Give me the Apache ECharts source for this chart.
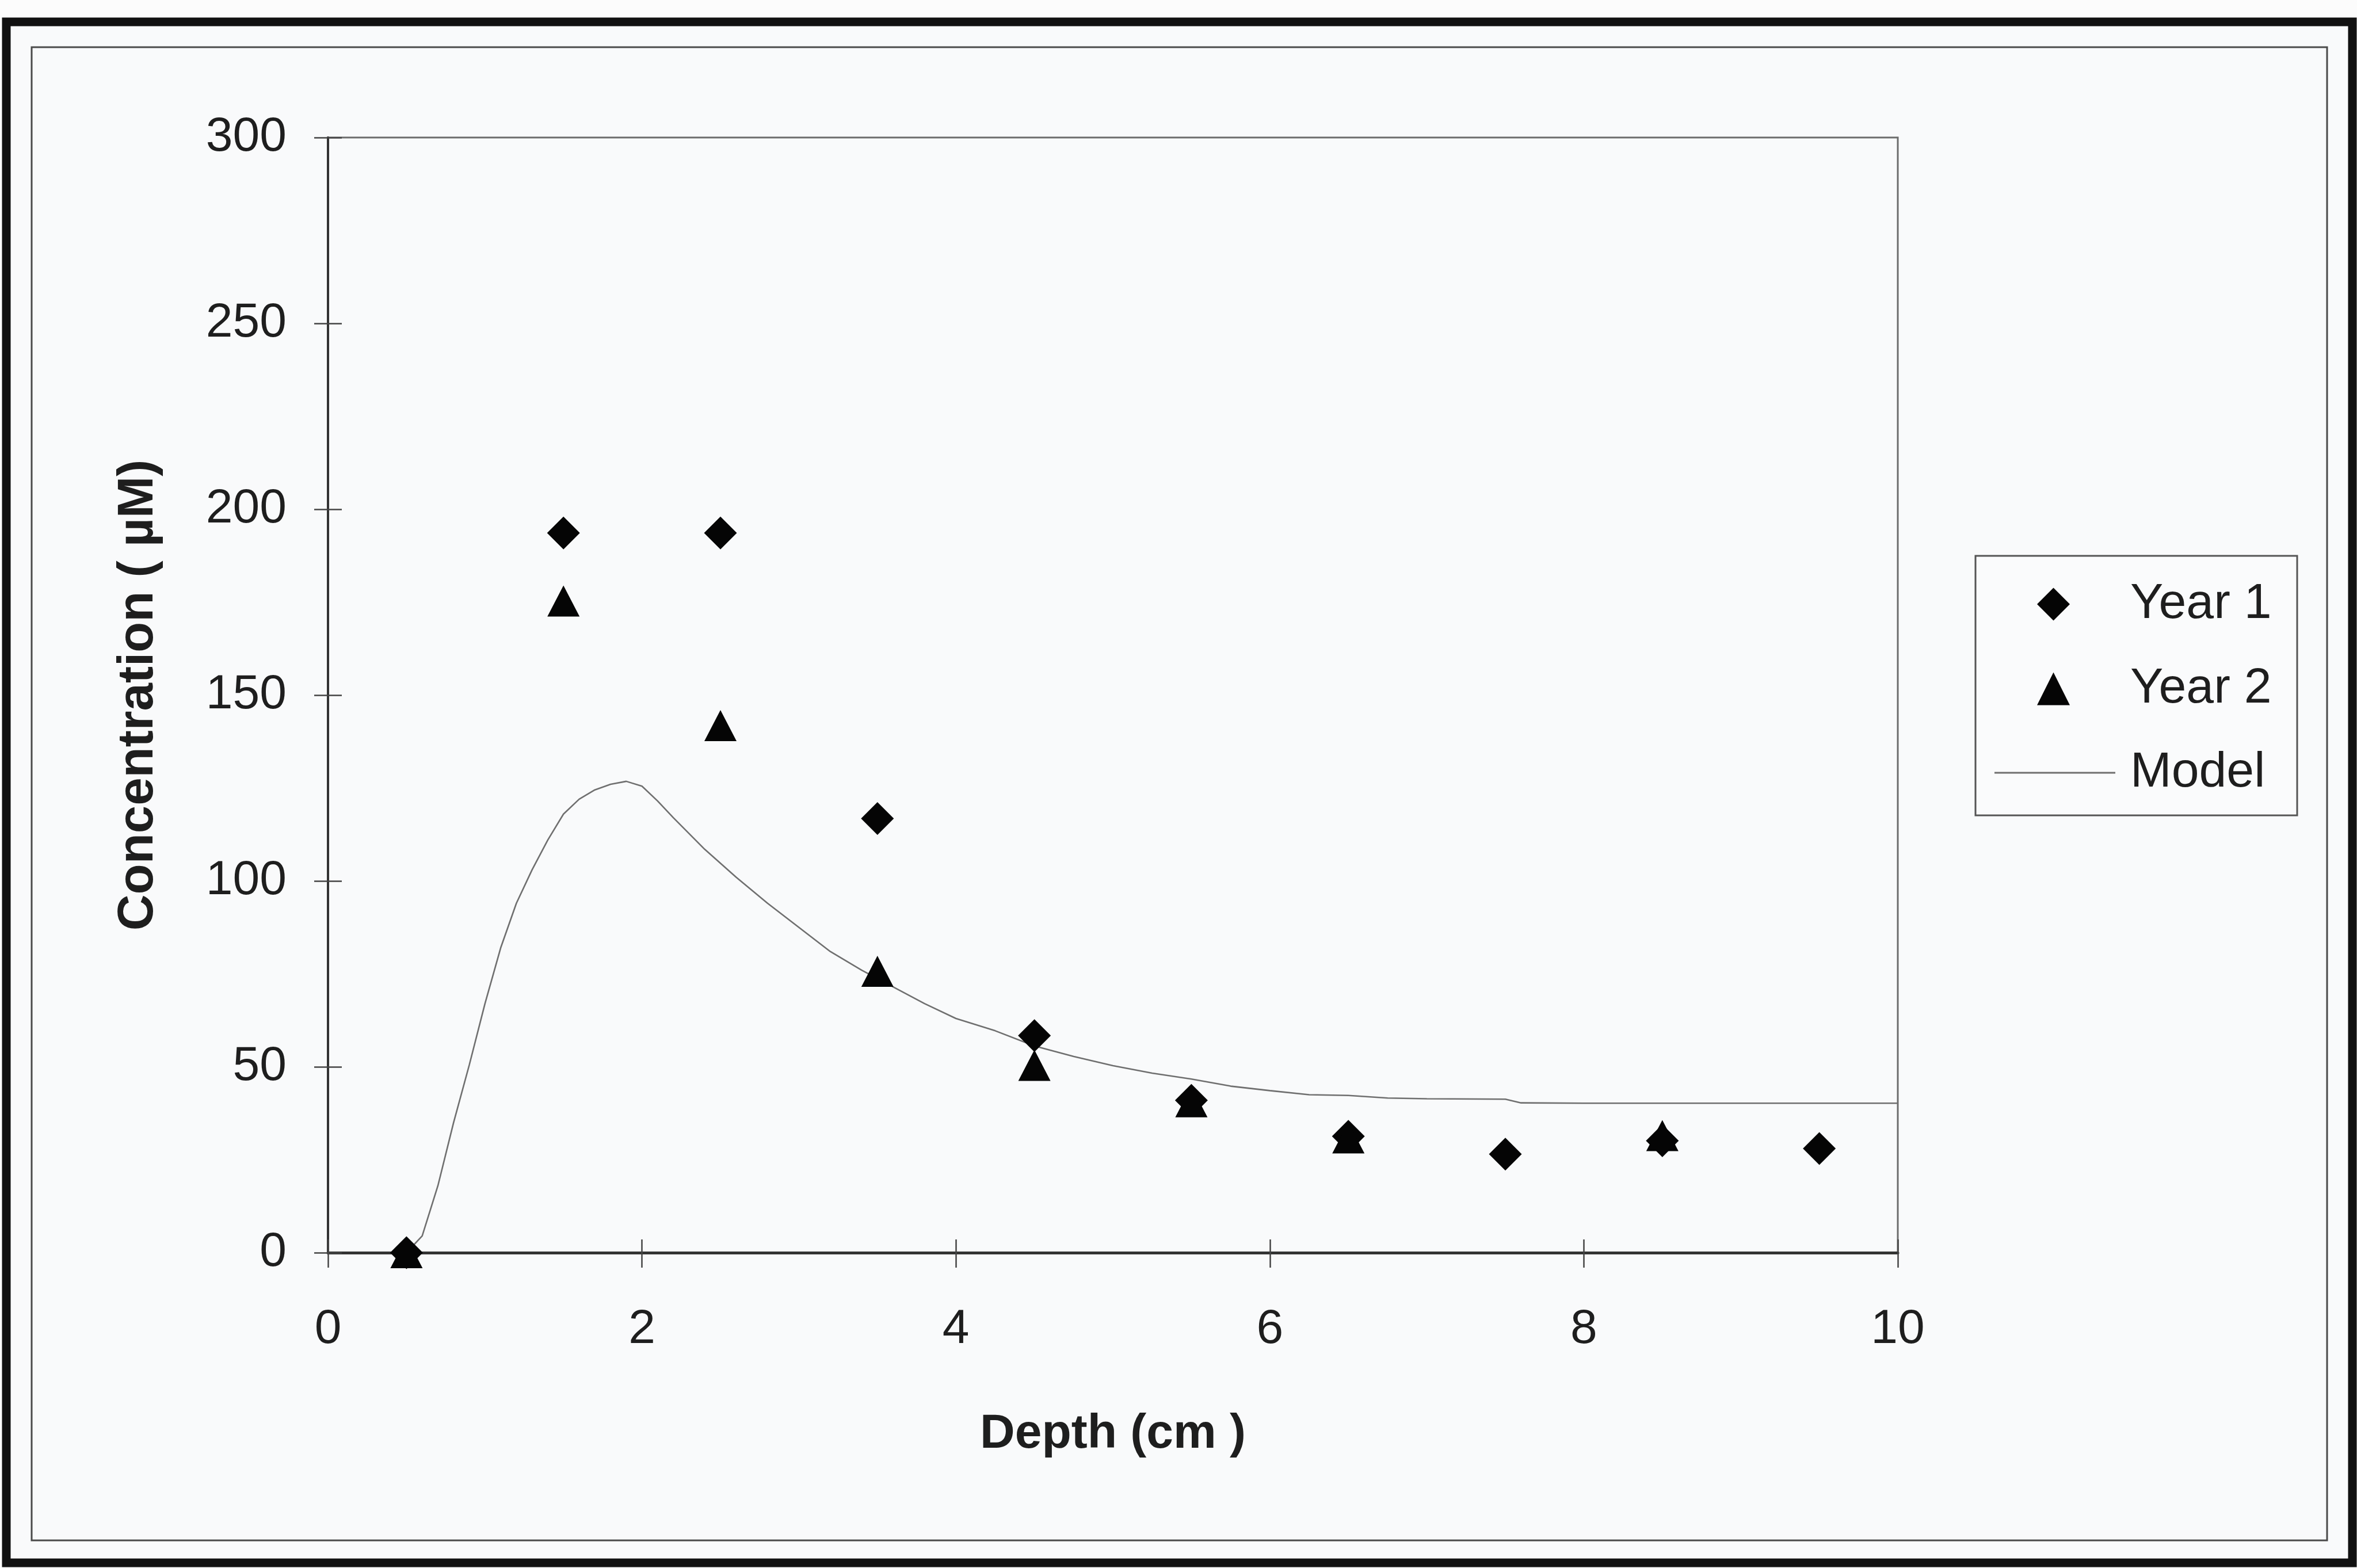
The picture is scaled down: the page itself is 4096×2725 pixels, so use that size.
<!DOCTYPE html>
<html>
<head>
<meta charset="utf-8">
<script src="https://cdn.jsdelivr.net/npm/echarts@6/dist/echarts.min.js"></script>
<style>
  html, body { margin: 0; padding: 0; background: #fcfcfc; }
  #chart { width: 4096px; height: 2725px; }
</style>
</head>
<body>
<div id="chart"></div>
<script>
// Axis ticks
const xTickValues = [0, 2, 4, 6, 8, 10];
const yTickValues = [0, 50, 100, 150, 200, 250, 300];

// Measured profiles (depth in cm, concentration in µM)
const year1Depth = [0.5, 1.5, 2.5, 3.5, 4.5, 5.5, 6.5, 7.5, 8.5, 9.5];
const year1Conc  = [0, 193.6, 193.6, 116.8, 58.4, 41.0, 31.3, 26.5, 30.1, 28.0];

const year2Depth = [0.5, 1.5, 2.5, 3.5, 4.5, 5.5, 6.5, 8.5];
const year2Conc  = [0, 175.3, 141.8, 75.7, 50.4, 40.6, 30.9, 31.5];

// Model profile
const modelDepth = [0.5, 0.6, 0.7, 0.8, 0.9, 1.0, 1.1, 1.2, 1.3, 1.4, 1.5, 1.6, 1.7, 1.8, 1.9, 2.0,
                    2.1, 2.2, 2.4, 2.6, 2.8, 3.0, 3.2, 3.4, 3.6, 3.8, 4.0, 4.25, 4.5, 4.75, 5.0,
                    5.25, 5.5, 5.75, 6.0, 6.25, 6.5, 6.75, 7.0, 7.5, 7.6, 8.0, 9.0, 10.0];
const modelConc  = [0, 4.5, 18, 35, 50.5, 67, 82, 94, 103, 111, 118, 122, 124.5, 126, 126.8, 125.5,
                    121.5, 117, 108.5, 101, 94, 87.5, 81, 76, 71.5, 67, 63, 59.7, 55.6, 52.8, 50.3,
                    48.3, 46.7, 44.8, 43.6, 42.5, 42.3, 41.6, 41.4, 41.3, 40.3, 40.2, 40.2, 40.2];

const pairs = (xs, ys) => xs.map((x, i) => [x, ys[i]]);

const FONT = '"Liberation Sans", Arial, Helvetica, sans-serif';
const INK = '#1e1e1e';
const MARK = '#050505';
const LINE = '#6f6f6f';

const xMin = xTickValues[0], xMax = xTickValues[xTickValues.length - 1];
const xStep = xTickValues[1] - xTickValues[0];
const yMin = yTickValues[0], yMax = yTickValues[yTickValues.length - 1];
const yStep = yTickValues[1] - yTickValues[0];

const chart = echarts.init(document.getElementById('chart'), null, { renderer: 'canvas' });

const grid = { left: 570, top: 239, width: 2728, height: 1938 };

const legendText = { fontFamily: FONT, fontSize: 86, color: INK };

const option = {
  backgroundColor: '#fcfcfc',
  animation: false,
  graphic: [
    // page panel
    { type: 'rect', z: -10, silent: true,
      shape: { x: 11, y: 38, width: 4077, height: 2678 },
      style: { fill: '#f9fafb', stroke: '#111', lineWidth: 15 } },
    // inner frame
    { type: 'rect', z: -9, silent: true,
      shape: { x: 55, y: 82, width: 3989, height: 2595 },
      style: { fill: 'none', stroke: '#4a4a4a', lineWidth: 3 } },
    // legend box
    { type: 'rect', z: -8, silent: true,
      shape: { x: 3433, y: 966, width: 559, height: 451 },
      style: { fill: '#fafbfc', stroke: '#555', lineWidth: 3 } }
  ],
  grid: {
    left: grid.left, top: grid.top, width: grid.width, height: grid.height,
    show: true, backgroundColor: 'transparent', borderColor: '#6c6c6c', borderWidth: 3
  },
  legend: [
    {
      orient: 'vertical',
      left: 3540, top: 980,
      itemWidth: 57, itemHeight: 57, itemGap: 7,
      selectedMode: false,
      padding: 0,
      textStyle: Object.assign({ lineHeight: 90, padding: [0, 0, 50, 100] }, legendText),
      data: ['Year 1', 'Year 2']
    },
    {
      orient: 'vertical',
      left: 3466, top: 1288,
      itemWidth: 210, itemHeight: 3,
      selectedMode: false,
      padding: 0,
      textStyle: Object.assign({ lineHeight: 100, padding: [0, 0, 10, 21] }, legendText),
      data: [{ name: 'Model', icon: 'rect', itemStyle: { color: LINE } }]
    }
  ],
  xAxis: [
    {
      type: 'value', position: 'bottom', min: xMin, max: xMax, interval: xStep,
      name: 'Depth (cm )', nameLocation: 'middle', nameGap: 274,
      nameTextStyle: { fontFamily: FONT, fontSize: 84, fontWeight: 'bold', color: INK },
      axisLine: { show: true, lineStyle: { color: '#333', width: 5 } },
      axisTick: { show: true, inside: false, length: 26, lineStyle: { color: '#444', width: 2.5 } },
      axisLabel: { margin: 92, fontFamily: FONT, fontSize: 84, color: INK },
      splitLine: { show: false }
    },
    {
      type: 'value', position: 'bottom', min: xMin, max: xMax, interval: xStep,
      axisLine: { show: false },
      axisTick: { show: true, inside: true, length: 23, lineStyle: { color: '#444', width: 2.5 } },
      axisLabel: { show: false },
      splitLine: { show: false }
    }
  ],
  yAxis: [
    {
      type: 'value', position: 'left', min: yMin, max: yMax, interval: yStep,
      name: 'Concentration ( µM)', nameLocation: 'middle', nameGap: 285, nameRotate: 90,
      nameTextStyle: { fontFamily: FONT, fontSize: 87, fontWeight: 'bold', color: INK },
      axisLine: { show: true, lineStyle: { color: '#333', width: 4 } },
      axisTick: { show: true, inside: false, length: 24, lineStyle: { color: '#444', width: 2.5 } },
      axisLabel: { margin: 72, fontFamily: FONT, fontSize: 84, color: INK },
      splitLine: { show: false }
    },
    {
      type: 'value', position: 'left', min: yMin, max: yMax, interval: yStep,
      axisLine: { show: false },
      axisTick: { show: true, inside: true, length: 24, lineStyle: { color: '#444', width: 2.5 } },
      axisLabel: { show: false },
      splitLine: { show: false }
    }
  ],
  series: [
    {
      name: 'Model', type: 'line', xAxisIndex: 0, yAxisIndex: 0,
      data: pairs(modelDepth, modelConc),
      symbol: 'none', showSymbol: false, smooth: false, clip: false, z: 2,
      lineStyle: { color: LINE, width: 2.6 },
      itemStyle: { color: LINE }
    },
    {
      name: 'Year 1', type: 'scatter', xAxisIndex: 0, yAxisIndex: 0,
      data: pairs(year1Depth, year1Conc),
      symbol: 'diamond', symbolSize: [57, 57], clip: false, z: 3,
      itemStyle: { color: MARK, opacity: 1 }
    },
    {
      name: 'Year 2', type: 'scatter', xAxisIndex: 0, yAxisIndex: 0,
      data: pairs(year2Depth, year2Conc),
      symbol: 'triangle', symbolSize: [56, 54], clip: false, z: 4,
      itemStyle: { color: MARK, opacity: 1 }
    }
  ]
};

chart.setOption(option);
</script>
</body>
</html>
